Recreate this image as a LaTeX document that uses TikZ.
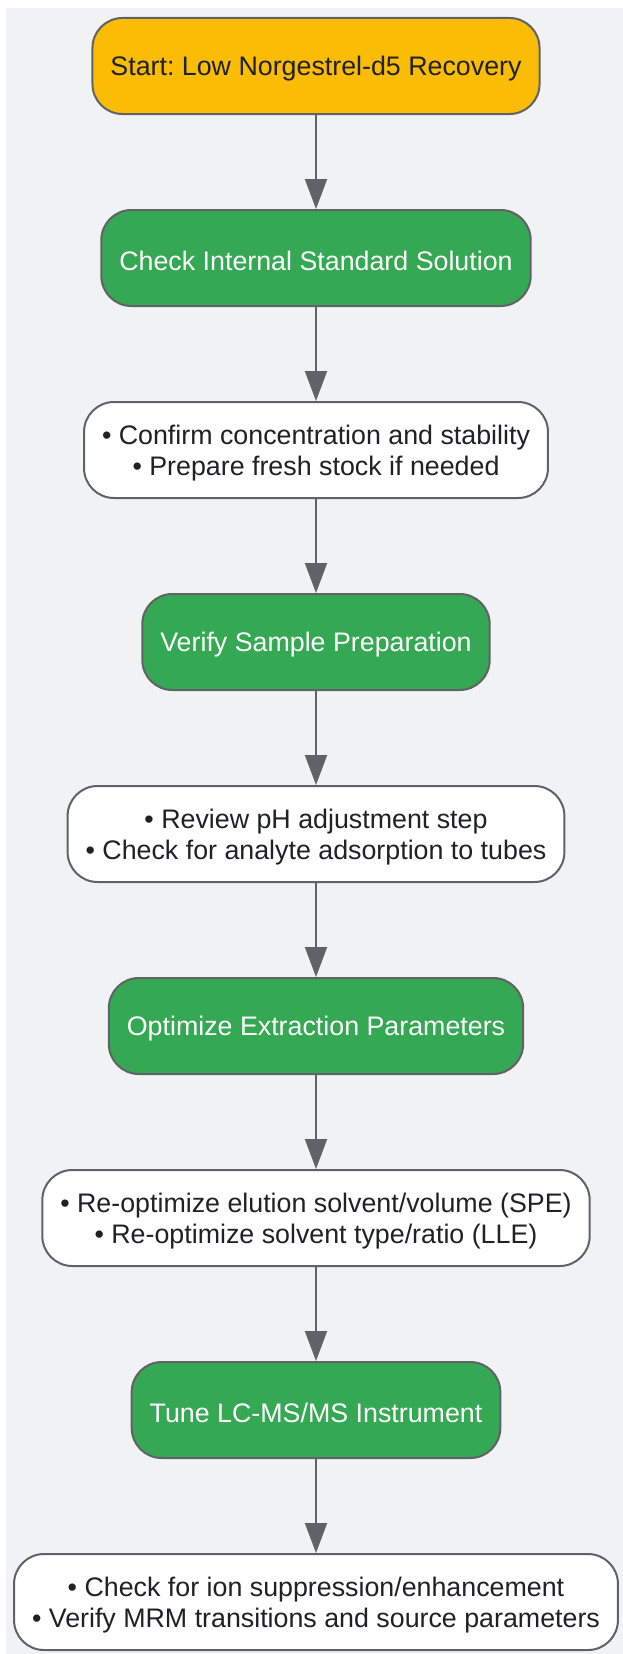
\documentclass[tikz,border=0pt]{standalone}
\usepackage{fontspec}
\setmainfont{Liberation Sans}
\frenchspacing
\usetikzlibrary{positioning,arrows.meta}
\definecolor{bgc}{HTML}{F1F2F4}
\definecolor{edg}{HTML}{5F6368}
\definecolor{ylw}{HTML}{FBBC05}
\definecolor{grn}{HTML}{34A853}
\definecolor{txt}{HTML}{202124}
\tikzset{
	box/.style={draw=edg, line width=2pt, rounded corners=30pt, minimum height=96pt,
		inner xsep=18pt, align=center, text=txt, text height=25pt,
		font=\fontsize{26.8}{31.6}\selectfont},
	startbox/.style={box, fill=ylw},
	stagebox/.style={box, fill=grn, text=white},
	notebox/.style={box, fill=white, text height=57pt},
	flow/.style={draw=edg, line width=2pt, -{Triangle[width=22pt,length=30pt]}}
}

\begin{document}
\begin{tikzpicture}[node distance=94pt]
			\useasboundingbox (0,0) rectangle (623pt,-1654pt);
			\fill[bgc] (6pt,-8pt) rectangle (623pt,-1654pt);

			\node[startbox] (start) at (316pt,-66pt) {Start: Low Norgestrel-d5 Recovery};
			\node[stagebox, below=of start] (istd) {Check Internal Standard Solution};
			\node[notebox, below=of istd] (istdnote) {• Confirm concentration and stability\\ • Prepare fresh stock if needed};
			\node[stagebox, below=of istdnote] (prep) {Verify Sample Preparation};
			\node[notebox, below=of prep] (prepnote) {• Review pH adjustment step\\ • Check for analyte adsorption to tubes};
			\node[stagebox, below=of prepnote] (extr) {Optimize Extraction Parameters};
			\node[notebox, below=of extr] (extrnote) {• Re-optimize elution solvent/volume (SPE)\\ • Re-optimize solvent type/ratio (LLE)};
			\node[stagebox, below=of extrnote] (tune) {Tune LC-MS/MS Instrument};
			\node[notebox, below=of tune] (tunenote) {• Check for ion suppression/enhancement\\ • Verify MRM transitions and source parameters};

			% connectors
			\draw[flow] (start) -- (istd);
			\draw[flow] (istd) -- (istdnote);
			\draw[flow] (istdnote) -- (prep);
			\draw[flow] (prep) -- (prepnote);
			\draw[flow] (prepnote) -- (extr);
			\draw[flow] (extr) -- (extrnote);
			\draw[flow] (extrnote) -- (tune);
			\draw[flow] (tune) -- (tunenote);

		\end{tikzpicture}
\end{document}
